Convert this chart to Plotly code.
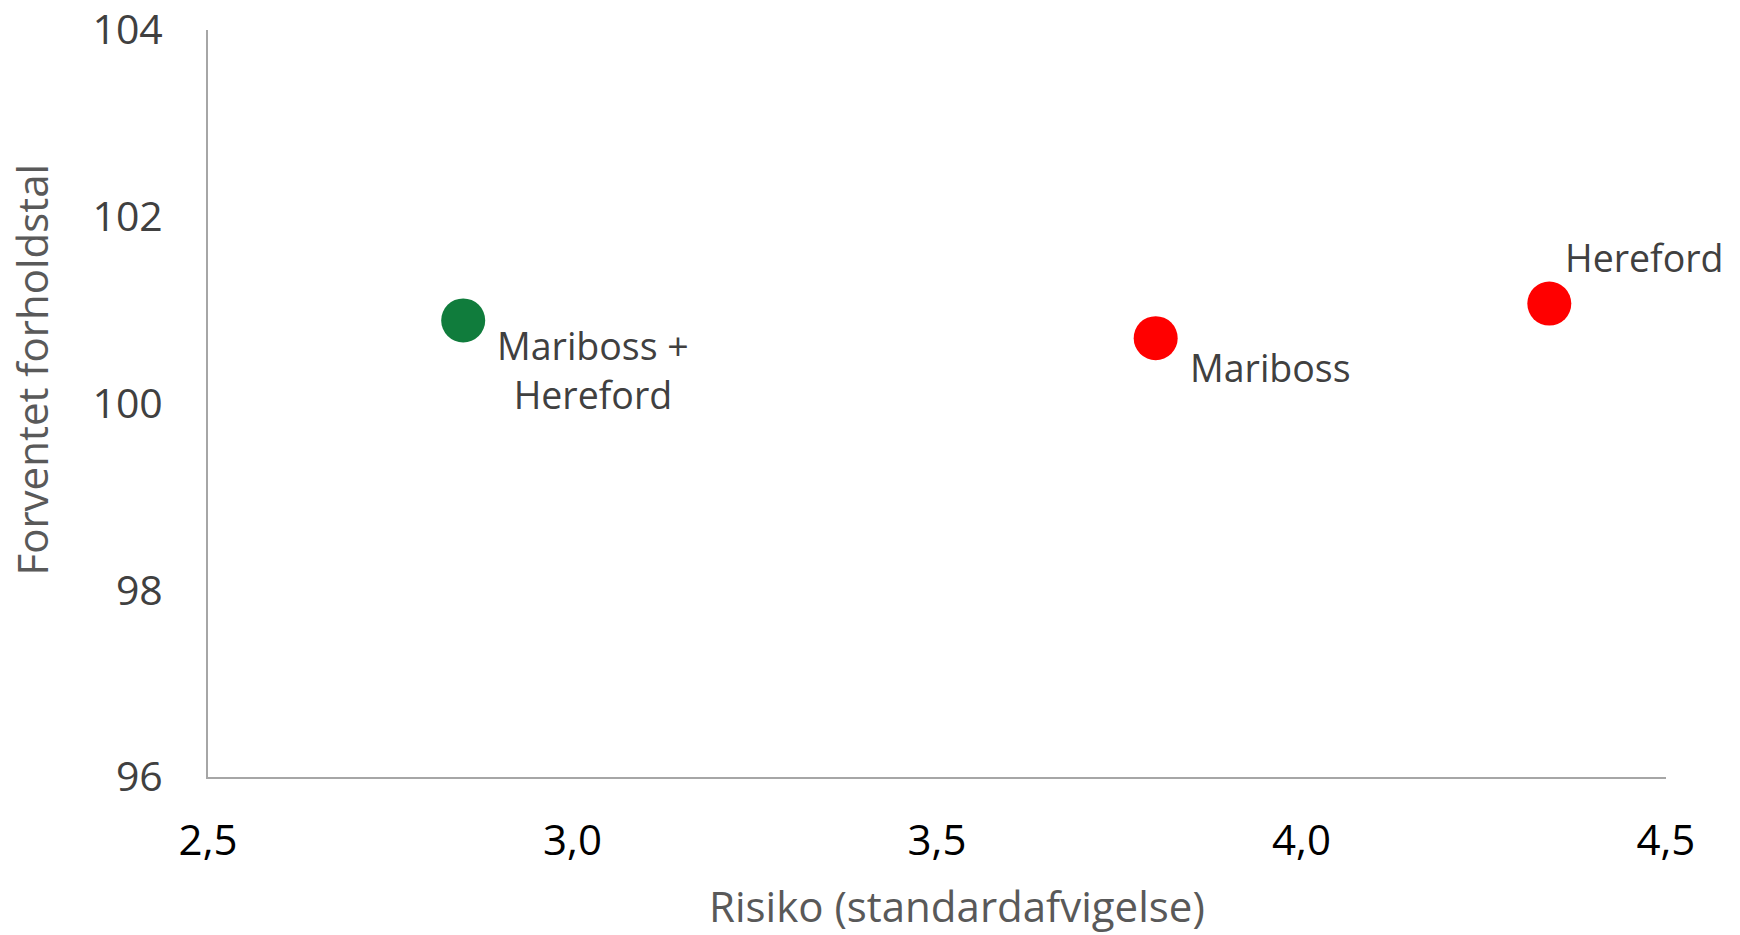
import plotly.graph_objects as go

labels = ["Mariboss +<br>Hereford", "Mariboss", "Hereford"]
risk = [2.85, 3.80, 4.34]
expected = [100.89, 100.70, 101.07]
colors = ["#107C3C", "#FF0000", "#FF0000"]
label_shift_x = [130, 115, 95]
label_shift_y = [-50, -29, 46]

x_ticks = [2.5, 3.0, 3.5, 4.0, 4.5]
x_ticktext = ["2,5", "3,0", "3,5", "4,0", "4,5"]
y_ticks = [96, 98, 100, 102, 104]
y_ticktext = ["96", "98", "100", "102", "104"]
x_title = "Risiko (standardafvigelse)"
y_title = "Forventet forholdstal"

FONT = "Open Sans"

fig = go.Figure()
fig.add_trace(go.Scatter(
    x=risk, y=expected, mode="markers",
    marker=dict(size=44, color=colors, line=dict(width=0)),
    hoverinfo="skip", showlegend=False, cliponaxis=False,
))

for lab, xv, yv, dx, dy in zip(labels, risk, expected, label_shift_x, label_shift_y):
    fig.add_annotation(
        x=xv, y=yv, text=lab, showarrow=False,
        xanchor="center", yanchor="middle", align="center",
        xshift=dx, yshift=dy,
        font=dict(family=FONT, size=37.5, color="#404040"),
    )

# axis titles (offset from centre as in the reference)
fig.add_annotation(
    x=0.5, y=0, xref="paper", yref="paper", text=x_title, showarrow=False,
    xanchor="center", yanchor="middle", xshift=20, yshift=-128,
    font=dict(family=FONT, size=42, color="#595959"),
)
fig.add_annotation(
    x=0, y=0.5, xref="paper", yref="paper", text=y_title, showarrow=False,
    textangle=-90, xanchor="center", yanchor="middle", xshift=-177, yshift=34,
    font=dict(family=FONT, size=42, color="#595959"),
)

fig.update_layout(
    width=1740, height=935,
    margin=dict(l=208, r=74, t=30, b=158, autoexpand=False),
    paper_bgcolor="white", plot_bgcolor="white",
    font=dict(family=FONT),
)
fig.update_xaxes(
    range=[2.4999, 4.5001], tickvals=x_ticks, ticktext=x_ticktext,
    showgrid=False, zeroline=False,
    showline=True, linecolor="#A6A6A6", linewidth=2,
    ticks="", ticklabelstandoff=26, ticklabeloverflow="allow",
    tickfont=dict(family=FONT, size=42, color="#000000"),
)
fig.update_yaxes(
    range=[95.999, 104.001], tickvals=y_ticks, ticktext=y_ticktext,
    showgrid=False, zeroline=False,
    showline=True, linecolor="#A6A6A6", linewidth=2,
    ticks="", ticklabelstandoff=35, ticklabeloverflow="allow",
    tickfont=dict(family=FONT, size=41, color="#404040"),
)

fig.write_html("out.html", config={"displayModeBar": False})

with open("out.html", "r", encoding="utf-8") as f:
    html = f.read()
html = html.replace("<head>", "<head><style>html,body{margin:0;padding:0;overflow:hidden;}</style>", 1)
with open("out.html", "w", encoding="utf-8") as f:
    f.write(html)
